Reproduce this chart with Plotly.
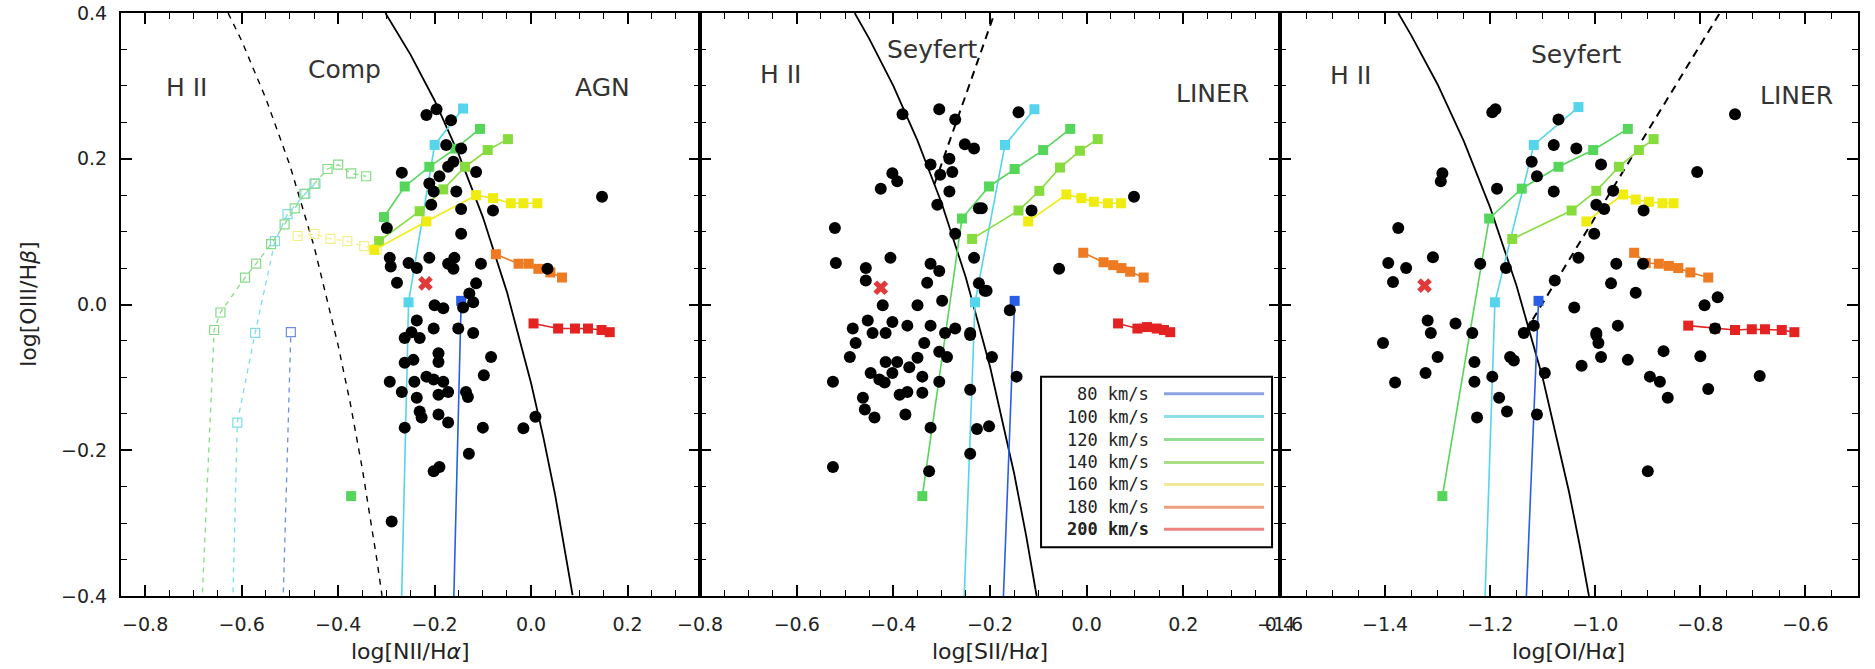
import plotly.graph_objects as go

# ------------------------------------------------------------------ data
nii_range = [-0.85, 0.35]
sii_range = [-0.8, 0.4]
oi_range = [-1.6, -0.5]
y_range = [-0.4, 0.4]
nii_ticks = [-0.8, -0.6, -0.4, -0.2, 0.0, 0.2]
sii_ticks = [-0.8, -0.6, -0.4, -0.2, 0.0, 0.2, 0.4]
oi_ticks = [-1.6, -1.4, -1.2, -1.0, -0.8, -0.6]
y_ticks = [-0.4, -0.2, 0.0, 0.2, 0.4]

velocities = ["80", "100", "120", "140", "160", "180", "200"]
legend_labels = ["80 km/s", "100 km/s", "120 km/s", "140 km/s", "160 km/s", "180 km/s", "200 km/s"]

# demarcation curves (Kewley 2001 solid, Kauffmann 2003 / Seyfert-LINER dashed)
nii_max_x = [-0.302, -0.25, -0.2, -0.15, -0.1, -0.05, 0.0, 0.025, 0.05, 0.07, 0.086]
nii_max_y = [0.400, 0.343, 0.280, 0.206, 0.120, 0.017, -0.108, -0.181, -0.262, -0.335, -0.399]
nii_kauf_x = [-0.628, -0.6, -0.55, -0.5, -0.45, -0.4, -0.375, -0.35, -0.32, -0.309]
nii_kauf_y = [0.400, 0.362, 0.283, 0.191, 0.080, -0.056, -0.135, -0.225, -0.349, -0.400]
sii_max_x = [-0.48, -0.45, -0.4, -0.35, -0.3, -0.25, -0.2, -0.15, -0.125, -0.1035]
sii_max_y = [0.400, 0.365, 0.300, 0.225, 0.139, 0.037, -0.085, -0.232, -0.318, -0.400]
sii_sl_x = [-0.315, -0.1905]
sii_sl_y = [0.165, 0.400]
oi_max_x = [-1.375, -1.35, -1.3, -1.25, -1.2, -1.15, -1.1, -1.05, -1.03, -1.012]
oi_max_y = [0.400, 0.369, 0.302, 0.224, 0.133, 0.026, -0.101, -0.257, -0.329, -0.400]
oi_sl_x = [-1.133, -0.763]
oi_sl_y = [-0.037, 0.400]

# shock model tracks, panel 1 ([NII]/Ha)
nii_80 = [(-0.162, -0.45), (-0.145, 0.005)]
nii_100 = [(-0.270, -0.45), (-0.254, 0.003), (-0.200, 0.219), (-0.141, 0.269)]
nii_120 = [(-0.305, 0.120), (-0.262, 0.162), (-0.211, 0.189), (-0.157, 0.214), (-0.106, 0.241)]
nii_120_lone = [(-0.373, -0.263)]
nii_140 = [(-0.315, 0.087), (-0.231, 0.128), (-0.182, 0.158), (-0.137, 0.189), (-0.090, 0.212), (-0.048, 0.227)]
nii_160 = [(-0.325, 0.075), (-0.217, 0.114), (-0.114, 0.150), (-0.079, 0.146), (-0.042, 0.139), (-0.016, 0.139), (0.013, 0.139)]
nii_180 = [(-0.073, 0.069), (-0.026, 0.056), (-0.005, 0.056), (0.015, 0.049), (0.040, 0.044), (0.064, 0.037)]
nii_200 = [(0.005, -0.026), (0.056, -0.033), (0.091, -0.033), (0.118, -0.033), (0.146, -0.035), (0.163, -0.038)]
# second (dashed, open squares) model set, panel 1
nii_lo_80 = [(-0.516, -0.45), (-0.498, -0.038)]
nii_lo_100 = [(-0.620, -0.45), (-0.609, -0.162), (-0.572, -0.039), (-0.531, 0.087), (-0.505, 0.124), (-0.468, 0.152), (-0.447, 0.166)]
nii_lo_120 = [(-0.685, -0.45), (-0.657, -0.035), (-0.644, -0.011), (-0.593, 0.037), (-0.570, 0.056), (-0.539, 0.083),
              (-0.511, 0.110), (-0.490, 0.132), (-0.470, 0.152), (-0.449, 0.166), (-0.422, 0.186), (-0.400, 0.192),
              (-0.373, 0.180), (-0.342, 0.176)]
nii_lo_160 = [(-0.484, 0.094), (-0.449, 0.097), (-0.416, 0.090), (-0.381, 0.087), (-0.346, 0.080), (-0.320, 0.076)]

# panel 2 ([SII]/Ha)
sii_80 = [(-0.175, -0.45), (-0.149, 0.005)]
sii_100 = [(-0.256, -0.45), (-0.231, 0.003), (-0.169, 0.219), (-0.108, 0.268)]
sii_120 = [(-0.340, -0.263), (-0.258, 0.118), (-0.202, 0.162), (-0.149, 0.186), (-0.090, 0.212), (-0.034, 0.241)]
sii_140 = [(-0.237, 0.090), (-0.141, 0.129), (-0.098, 0.156), (-0.055, 0.188), (-0.014, 0.211), (0.023, 0.227)]
sii_160 = [(-0.121, 0.114), (-0.042, 0.151), (-0.011, 0.146), (0.015, 0.141), (0.044, 0.139), (0.071, 0.139)]
sii_180 = [(-0.007, 0.071), (0.035, 0.058), (0.055, 0.054), (0.072, 0.050), (0.090, 0.045), (0.118, 0.037)]
sii_200 = [(0.065, -0.026), (0.105, -0.033), (0.125, -0.031), (0.145, -0.033), (0.160, -0.035), (0.173, -0.038)]

# panel 3 ([OI]/Ha)
oi_80 = [(-1.134, -0.45), (-1.108, 0.005)]
oi_100 = [(-1.212, -0.45), (-1.191, 0.003), (-1.117, 0.219), (-1.032, 0.271)]
oi_120 = [(-1.291, -0.263), (-1.202, 0.118), (-1.140, 0.159), (-1.070, 0.189), (-1.004, 0.212), (-0.938, 0.241)]
oi_140 = [(-1.158, 0.090), (-1.045, 0.129), (-0.998, 0.156), (-0.955, 0.189), (-0.917, 0.212), (-0.889, 0.227)]
oi_160 = [(-1.017, 0.114), (-0.947, 0.151), (-0.923, 0.144), (-0.898, 0.141), (-0.872, 0.139), (-0.851, 0.139)]
oi_180 = [(-0.926, 0.071), (-0.904, 0.057), (-0.879, 0.056), (-0.860, 0.053), (-0.842, 0.050), (-0.819, 0.044), (-0.785, 0.037)]
oi_200 = [(-0.823, -0.029), (-0.772, -0.033), (-0.734, -0.035), (-0.702, -0.034), (-0.677, -0.034), (-0.645, -0.035), (-0.621, -0.038)]

# observed spaxels (black dots)
nii_dots = [(-0.217, 0.260), (-0.196, 0.268), (-0.166, 0.253), (-0.176, 0.219), (-0.145, 0.214), (-0.268, 0.181),
            (-0.161, 0.196), (-0.172, 0.189), (-0.114, 0.182), (-0.211, 0.166), (-0.190, 0.176), (-0.202, 0.155),
            (-0.155, 0.155), (-0.207, 0.137), (-0.145, 0.131), (-0.079, 0.129), (-0.299, 0.105), (-0.145, 0.097),
            (0.147, 0.148), (-0.293, 0.064), (-0.291, 0.052), (-0.254, 0.057), (-0.237, 0.050), (-0.211, 0.064),
            (-0.172, 0.056), (-0.159, 0.064), (-0.161, 0.049), (-0.104, 0.056), (-0.278, 0.030), (-0.200, -0.001),
            (-0.182, -0.005), (-0.114, 0.029), (-0.128, 0.015), (-0.120, 0.003), (-0.141, -0.004), (-0.237, -0.022),
            (-0.248, -0.038), (-0.202, -0.033), (-0.151, -0.033), (-0.120, -0.039), (0.034, 0.049), (-0.262, -0.046),
            (-0.231, -0.046), (-0.083, -0.072), (-0.098, -0.097), (-0.293, -0.106), (-0.268, -0.120), (-0.262, -0.080),
            (-0.244, -0.076), (-0.242, -0.106), (-0.217, -0.099), (-0.192, -0.067), (-0.192, -0.079), (-0.202, -0.103),
            (-0.182, -0.106), (-0.172, -0.120), (-0.192, -0.124), (-0.237, -0.128), (-0.231, -0.147), (-0.227, -0.155),
            (-0.192, -0.151), (-0.172, -0.162), (-0.262, -0.169), (-0.135, -0.120), (-0.131, -0.127), (-0.100, -0.169),
            (-0.016, -0.170), (0.009, -0.154), (-0.129, -0.205), (-0.202, -0.229), (-0.190, -0.223), (-0.289, -0.298)]
sii_dots = [(-0.381, 0.261), (-0.305, 0.268), (-0.272, 0.254), (-0.252, 0.220), (-0.233, 0.214), (-0.402, 0.180),
            (-0.392, 0.169), (-0.426, 0.159), (-0.323, 0.192), (-0.284, 0.200), (-0.303, 0.178), (-0.278, 0.182),
            (-0.284, 0.155), (-0.309, 0.137), (-0.223, 0.132), (-0.521, 0.105), (-0.272, 0.097), (-0.233, 0.064),
            (-0.519, 0.057), (-0.457, 0.050), (-0.406, 0.064), (-0.323, 0.056), (-0.305, 0.046), (-0.457, 0.033),
            (-0.330, 0.030), (-0.299, 0.005), (-0.223, 0.029), (-0.211, 0.019), (-0.422, -0.001), (-0.350, -0.001),
            (-0.484, -0.033), (-0.453, -0.022), (-0.443, -0.039), (-0.416, -0.039), (-0.402, -0.024), (-0.371, -0.029),
            (-0.323, -0.029), (-0.293, -0.039), (-0.272, -0.033), (-0.241, -0.039), (-0.478, -0.053), (-0.490, -0.072),
            (-0.416, -0.079), (-0.392, -0.079), (-0.447, -0.094), (-0.429, -0.103), (-0.418, -0.107), (-0.402, -0.094),
            (-0.367, -0.086), (-0.350, -0.073), (-0.336, -0.053), (-0.340, -0.099), (-0.387, -0.124), (-0.371, -0.120),
            (-0.340, -0.121), (-0.305, -0.106), (-0.305, -0.065), (-0.289, -0.072), (-0.525, -0.106), (-0.463, -0.128),
            (-0.459, -0.144), (-0.439, -0.155), (-0.375, -0.151), (-0.323, -0.169), (-0.326, -0.229), (-0.525, -0.223),
            (-0.241, -0.117), (-0.241, -0.205), (-0.227, -0.171), (-0.241, -0.042), (-0.196, -0.072), (-0.145, -0.099),
            (-0.202, -0.167), (-0.141, 0.264), (-0.217, 0.132), (-0.114, 0.129), (0.098, 0.148), (-0.057, 0.049),
            (-0.207, 0.019), (-0.159, -0.008)]
oi_dots = [(-1.196, 0.264), (-1.190, 0.268), (-1.079, 0.219), (-1.121, 0.196), (-1.111, 0.176), (-1.079, 0.155),
           (-1.291, 0.180), (-1.294, 0.169), (-1.187, 0.159), (-1.375, 0.105), (-1.394, 0.057), (-1.360, 0.050),
           (-1.385, 0.031), (-1.309, 0.065), (-1.219, 0.056), (-1.170, 0.050), (-1.077, 0.033), (-1.319, -0.022),
           (-1.313, -0.039), (-1.266, -0.026), (-1.234, -0.039), (-1.136, -0.039), (-1.117, -0.029), (-1.070, 0.254),
           (-1.036, 0.214), (-0.989, 0.192), (-0.806, 0.182), (-0.734, 0.261), (-0.966, 0.156), (-0.998, 0.137),
           (-0.983, 0.131), (-0.908, 0.129), (-1.002, 0.097), (-1.032, 0.064), (-0.960, 0.056), (-0.909, 0.056),
           (-0.970, 0.029), (-0.923, 0.016), (-1.040, -0.004), (-0.957, -0.029), (-0.998, -0.039), (-0.792, -0.001),
           (-0.767, 0.010), (-0.772, -0.033), (-1.404, -0.053), (-1.381, -0.107), (-1.323, -0.094), (-1.300, -0.072),
           (-1.230, -0.079), (-1.230, -0.106), (-1.225, -0.155), (-1.196, -0.099), (-1.183, -0.128), (-1.168, -0.147),
           (-1.162, -0.072), (-1.155, -0.077), (-1.111, -0.151), (-1.096, -0.094), (-0.998, -0.042), (-0.994, -0.053),
           (-0.989, -0.072), (-1.026, -0.084), (-0.938, -0.076), (-0.870, -0.064), (-0.800, -0.071), (-0.896, -0.099),
           (-0.877, -0.106), (-0.862, -0.128), (-0.785, -0.116), (-0.687, -0.098), (-0.900, -0.229)]

# integrated (nuclear) ratio, red cross
nii_cross = [(-0.219, 0.029)]
sii_cross = [(-0.426, 0.023)]
oi_cross = [(-1.325, 0.026)]

# ------------------------------------------------------------------ style
track_colors = {"80": "#2a5ee8", "100": "#55d4ec", "120": "#55d65a", "140": "#86dc3c",
                "160": "#f0ec10", "180": "#ee7a22", "200": "#e42222"}
legend_colors = {"80": "#8ea2e2", "100": "#8fdfea", "120": "#92df94", "140": "#a8de86",
                 "160": "#f2e89a", "180": "#eea07e", "200": "#ee8282"}
lo_colors = {"80": "#6f8ce6", "100": "#7fdcec", "120": "#86dc86", "160": "#f4f08a"}
FONT = "DejaVu Sans"

W, H = 1875, 669
L, R, T, B = 121, 2, 11, 73
PW, PH = W - L - R, H - T - B


def px_x(p):
    return (p - L) / PW


def px_y(p):
    return (H - B - p) / PH


def xy(pts):
    return [p[0] for p in pts], [p[1] for p in pts]


fig = go.Figure()


def add_line(ax, xs, ys, dash=None, width=1.8):
    fig.add_trace(go.Scatter(x=xs, y=ys, mode="lines", xaxis="x" + ax, yaxis="y" + ax,
                             line=dict(color="black", width=width, dash=dash), hoverinfo="skip"))


def add_track(ax, pts, color, lo=False):
    xs, ys = xy(pts)
    fig.add_trace(go.Scatter(
        x=xs, y=ys, mode="lines+markers", xaxis="x" + ax, yaxis="y" + ax,
        line=dict(color=color, width=1.3 if lo else 1.6, dash="5px,5px" if lo else None),
        marker=dict(symbol="square-open" if lo else "square", size=9 if lo else 10, color=color,
                    line=dict(width=1.2 if lo else 0, color=color))))


def add_dots(ax, pts):
    xs, ys = xy(pts)
    fig.add_trace(go.Scatter(x=xs, y=ys, mode="markers", xaxis="x" + ax, yaxis="y" + ax,
                             marker=dict(symbol="circle", size=12, color="black", line=dict(width=0))))


def add_cross(ax, pts):
    xs, ys = xy(pts)
    fig.add_trace(go.Scatter(x=xs, y=ys, mode="markers", xaxis="x" + ax, yaxis="y" + ax,
                             marker=dict(symbol="x", size=13, color="#e23a3a", line=dict(width=0))))


# panel 1
add_line("", nii_max_x, nii_max_y)
add_line("", nii_kauf_x, nii_kauf_y, dash="6px,6px", width=1.4)
for v, pts in zip(["80", "100", "120", "160"], [nii_lo_80, nii_lo_100, nii_lo_120, nii_lo_160]):
    add_track("", pts, lo_colors[v], lo=True)
for v, pts in zip(velocities, [nii_80, nii_100, nii_120, nii_140, nii_160, nii_180, nii_200]):
    add_track("", pts, track_colors[v])
add_track("", nii_120_lone, track_colors["120"])
add_dots("", nii_dots)
add_cross("", nii_cross)

# panel 2
add_line("2", sii_max_x, sii_max_y)
add_line("2", sii_sl_x, sii_sl_y, dash="8px,6px", width=2)
for v, pts in zip(velocities, [sii_80, sii_100, sii_120, sii_140, sii_160, sii_180, sii_200]):
    add_track("2", pts, track_colors[v])
add_dots("2", sii_dots)
add_cross("2", sii_cross)

# panel 3
add_line("3", oi_max_x, oi_max_y)
add_line("3", oi_sl_x, oi_sl_y, dash="8px,6px", width=2)
for v, pts in zip(velocities, [oi_80, oi_100, oi_120, oi_140, oi_160, oi_180, oi_200]):
    add_track("3", pts, track_colors[v])
add_dots("3", oi_dots)
add_cross("3", oi_cross)


def fmt(v):
    s = "%.1f" % v
    if s == "-0.0":
        s = "0.0"
    return s.replace("-", "\u2212")


doms = [[0, 584 / PW], [584 / PW, 1169 / PW], [1169 / PW, 1]]
xr = [nii_range, sii_range, oi_range]
xt = [nii_ticks, sii_ticks, oi_ticks]
axis_common = dict(ticks="inside", ticklen=11, tickwidth=1.6, tickcolor="black", showline=True,
                   linecolor="black", linewidth=2, mirror="ticks", showgrid=False, zeroline=False,
                   ticklabeloverflow="allow",
                   tickfont=dict(family=FONT, size=19, color="#222"),
                   minor=dict(ticks="inside", ticklen=6, tickwidth=1.3, tickcolor="black",
                              tick0=0, dtick=0.05, showgrid=False))
layout = dict(width=W, height=H, margin=dict(l=L, r=R, t=T, b=B), showlegend=False,
              plot_bgcolor="white", paper_bgcolor="white")
for i, s in enumerate(["", "2", "3"]):
    lo_x, hi_x = xr[i]
    layout["xaxis" + s] = dict(axis_common, domain=doms[i], range=[lo_x - 1e-4, hi_x + 1e-4],
                               tickmode="array", tickvals=xt[i], ticktext=[fmt(v) for v in xt[i]],
                               anchor="y" + s, ticklabelstandoff=10)
    layout["yaxis" + s] = dict(axis_common, domain=[0, 1], range=[y_range[0] - 1e-4, y_range[1] + 1e-4],
                               tickmode="array", tickvals=y_ticks, ticktext=[fmt(v) for v in y_ticks],
                               anchor="x" + s, showticklabels=(i == 0), ticklabelstandoff=8)
fig.update_layout(**layout)

ann = []
lab_font = dict(family=FONT, size=25, color="#333")
regions = [("", "H II", -0.714, 0.298), ("", "Comp", -0.387, 0.322), ("", "AGN", 0.147, 0.298),
           ("2", "H II", -0.632, 0.316), ("2", "Seyfert", -0.320, 0.350), ("2", "LINER", 0.260, 0.290),
           ("3", "H II", -1.464, 0.314), ("3", "Seyfert", -1.036, 0.343), ("3", "LINER", -0.617, 0.287)]
for s, t, x, y in regions:
    ann.append(dict(text=t, x=x, y=y, xref="x" + s, yref="y" + s, showarrow=False, font=lab_font,
                    xanchor="center", yanchor="middle"))

tfont = dict(family=FONT, size=22, color="#222")
for cx, t in [(413, "log[NII/H<i>\u03b1</i>]"), (997.5, "log[SII/H<i>\u03b1</i>]"), (1581.5, "log[OI/H<i>\u03b1</i>]")]:
    ann.append(dict(text=t, x=px_x(cx), y=px_y(652), xref="paper", yref="paper", showarrow=False,
                    font=tfont, xanchor="center", yanchor="middle"))
ann.append(dict(text="log[OIII/H<i>\u03b2</i>]", x=px_x(27), y=px_y(303), xref="paper", yref="paper",
                showarrow=False, font=tfont, textangle=-90, xanchor="center", yanchor="middle"))

# legend box (text left, coloured line right)
shapes = [dict(type="rect", xref="paper", yref="paper", x0=px_x(1049), x1=px_x(1282), y0=px_y(547),
               y1=px_y(376), line=dict(color="black", width=2), fillcolor="white", layer="above")]
row_y = [393, 416, 439, 462, 484, 507, 529]
for k, v in enumerate(velocities):
    shapes.append(dict(type="line", xref="paper", yref="paper", x0=px_x(1173), x1=px_x(1274),
                       y0=px_y(row_y[k]), y1=px_y(row_y[k]), line=dict(color=legend_colors[v], width=3),
                       layer="above"))
    txt = legend_labels[k] if v != "200" else "<b>" + legend_labels[k] + "</b>"
    ann.append(dict(text=txt, x=px_x(1160), y=px_y(row_y[k]), xref="paper", yref="paper",
                    showarrow=False, xanchor="right", yanchor="middle",
                    font=dict(family="DejaVu Sans Mono", size=17, color="#222")))
fig.update_layout(annotations=ann, shapes=shapes)

fig.write_html("out.html")
